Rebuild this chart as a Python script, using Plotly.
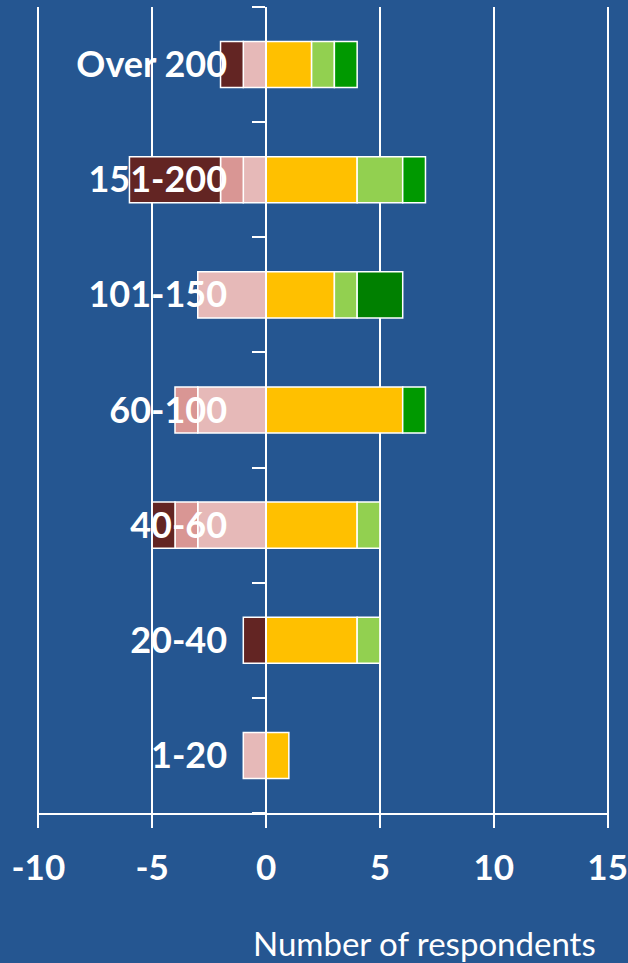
import plotly.graph_objects as go

categories = ["1-20", "20-40", "40-60", "60-100", "101-150", "151-200", "Over 200"]

# negative side (stacked outward from zero)
light_pink = [-1, None, -3, -3, -3, -1, -1]
medium_pink = [None, None, -1, -1, None, -1, None]
maroon = [None, -1, -1, None, None, -4, -1]
# positive side
orange = [1, 4, 4, 6, 3, 4, 2]
light_green = [None, 1, 1, None, 1, 2, 1]
green = [None, None, None, 1, None, 1, 1]
dark_green = [None, None, None, None, 2, None, None]

x_ticks = [-10, -5, 0, 5, 10, 15]

series = [
    ("Light pink", light_pink, "#E6B9B8"),
    ("Medium pink", medium_pink, "#D99694"),
    ("Maroon", maroon, "#632523"),
    ("Orange", orange, "#FFC000"),
    ("Light green", light_green, "#92D050"),
    ("Green", green, "#009900"),
    ("Dark green", dark_green, "#008000"),
]

bg = "#255691"
x_lo, x_hi = -10.06, 15.06

fig = go.Figure()
for name, vals, col in series:
    fig.add_trace(go.Bar(
        y=categories, x=vals, name=name, orientation="h",
        marker=dict(color=col, line=dict(color="white", width=1.5)),
        showlegend=False,
    ))

fig.update_layout(
    width=628, height=963,
    margin=dict(l=37, r=19, t=7, b=150, autoexpand=False),
    paper_bgcolor=bg, plot_bgcolor=bg,
    barmode="relative", bargap=0.6,
    font=dict(family="Lato", color="white"),
    xaxis=dict(
        range=[x_lo, x_hi], tickvals=x_ticks, ticktext=[str(v) for v in x_ticks],
        showgrid=True, gridcolor="white", gridwidth=1.5,
        zeroline=False, showline=True, linecolor="white", linewidth=1.5,
        ticks="outside", ticklen=13, tickcolor="white", tickwidth=1.5,
        ticklabelstandoff=10,
        automargin=False, ticklabeloverflow="allow",
        tickfont=dict(family="Lato", size=35, color="white", weight="bold"),
    ),
    yaxis=dict(
        type="category", categoryorder="array", categoryarray=categories,
        anchor="free", position=-x_lo / (x_hi - x_lo),
        showgrid=False, zeroline=False,
        showline=True, linecolor="white", linewidth=1.5,
        ticks="outside", tickson="boundaries", ticklen=13,
        tickcolor="white", tickwidth=1.5,
        ticklabelstandoff=31, automargin=False, ticklabeloverflow="allow",
        tickfont=dict(family="Lato", size=36, color="white", weight="bold"),
    ),
    annotations=[dict(
        text="Number of respondents", xref="paper", yref="paper",
        x=(598 - 37) / 572, y=0, xanchor="right", yanchor="middle",
        yshift=-130, showarrow=False,
        font=dict(family="Lato", size=33, color="white"),
    )],
)

fig.write_html("out.html", config={"displayModeBar": False},
               post_script="document.body.style.margin='0';")
